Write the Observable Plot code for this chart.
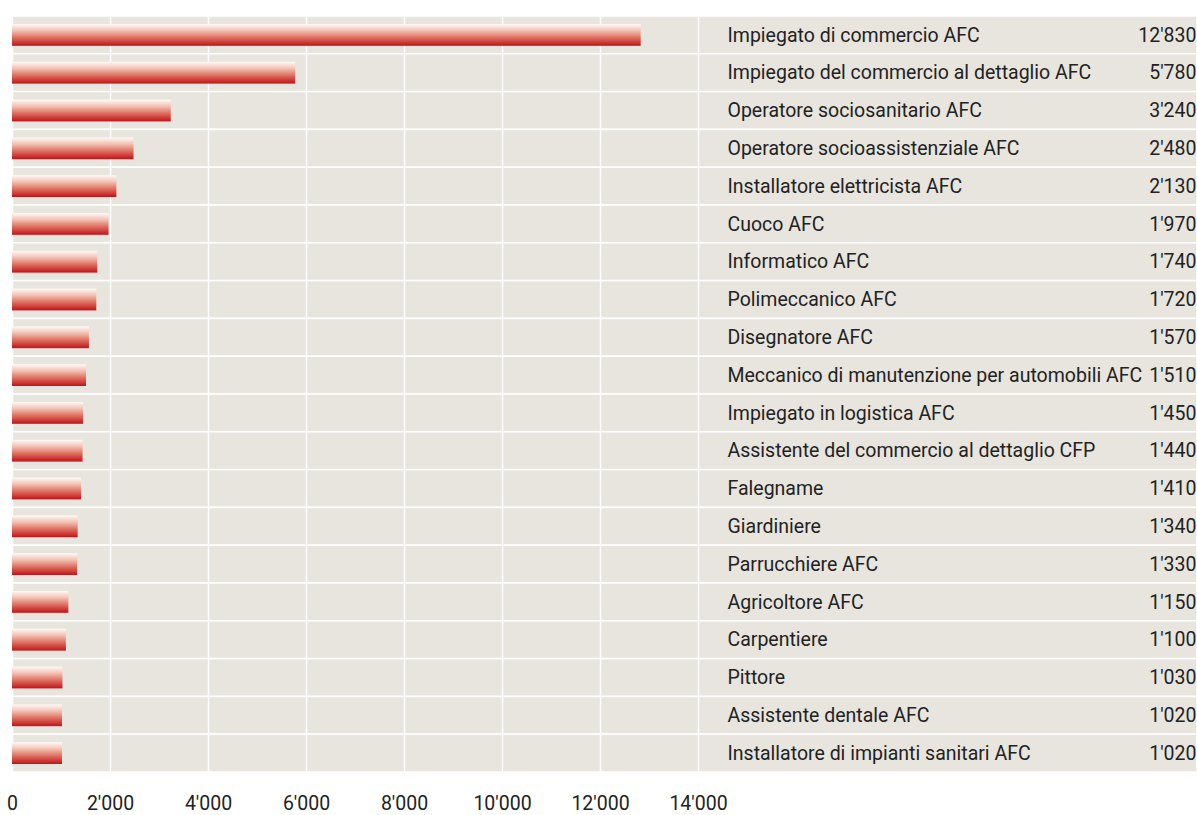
<!DOCTYPE html>
<html><head><meta charset="utf-8">
<script src="https://cdn.jsdelivr.net/npm/d3@7"></script>
<script src="https://cdn.jsdelivr.net/npm/@observablehq/plot@0.6"></script>
<style>body{margin:0;background:#fff;} svg{display:block;}</style>
</head><body><div id="chart"></div>
<script>
const names = [
  "Impiegato di commercio AFC",
  "Impiegato del commercio al dettaglio AFC",
  "Operatore sociosanitario AFC",
  "Operatore socioassistenziale AFC",
  "Installatore elettricista AFC",
  "Cuoco AFC",
  "Informatico AFC",
  "Polimeccanico AFC",
  "Disegnatore AFC",
  "Meccanico di manutenzione per automobili AFC",
  "Impiegato in logistica AFC",
  "Assistente del commercio al dettaglio CFP",
  "Falegname",
  "Giardiniere",
  "Parrucchiere AFC",
  "Agricoltore AFC",
  "Carpentiere",
  "Pittore",
  "Assistente dentale AFC",
  "Installatore di impianti sanitari AFC"
];
const values = [12830, 5780, 3240, 2480, 2130, 1970, 1740, 1720, 1570, 1510, 1450, 1440, 1410, 1340, 1330, 1150, 1100, 1030, 1020, 1020];
const xTicks = [0, 2000, 4000, 6000, 8000, 10000, 12000, 14000];

const data = names.map((n, i) => ({name: n, value: values[i]}));
const fmt = d3.formatLocale({decimal: ".", thousands: "'", grouping: [3], currency: ["", ""]}).format(",d");

const defs = () => {
  const d = d3.create("svg:defs");
  const g = d.append("linearGradient").attr("id", "barGrad").attr("x1", 0).attr("y1", 0).attr("x2", 0).attr("y2", 1);
  g.append("stop").attr("offset", "0%").attr("stop-color", "#fffaf7");
  g.append("stop").attr("offset", "30%").attr("stop-color", "#f3c2b4");
  g.append("stop").attr("offset", "65%").attr("stop-color", "#dc6a5a");
  g.append("stop").attr("offset", "100%").attr("stop-color", "#c2121a");
  return d.node();
};

const chart = Plot.plot({
  width: 1197,
  height: 815,
  marginTop: 16,
  marginBottom: 43,
  marginLeft: 12,
  marginRight: 499,
  style: {fontFamily: "Roboto, 'DejaVu Sans', sans-serif", fontSize: "19.5px", color: "#222", background: "#fff"},
  x: {domain: [0, 14000], ticks: xTicks, tickFormat: fmt, tickSize: 0, tickPadding: 24, label: null, axis: "bottom"},
  y: {domain: names, padding: 0, round: false, axis: null},
  marks: [
    defs,
    Plot.barX(data, {x1: 0, x2: 14000, y: "name", fill: "#e8e5df", stroke: "#ffffff", strokeWidth: 1.5, insetRight: -499}),
    Plot.ruleX(xTicks, {stroke: "#ffffff", strokeWidth: 1.5}),
    Plot.barX(data, {x: "value", y: "name", fill: "url(#barGrad)", insetTop: 8, insetBottom: 8}),
    Plot.text(data, {y: "name", text: "name", frameAnchor: "right", textAnchor: "start", dx: 29, fill: "#222", fontSize: 19.5}),
    Plot.text(data, {y: "name", text: d => fmt(d.value), frameAnchor: "right", textAnchor: "end", dx: 498, fill: "#222", fontSize: 19.5})
  ]
});
document.getElementById("chart").appendChild(chart);
</script>
</body></html>
